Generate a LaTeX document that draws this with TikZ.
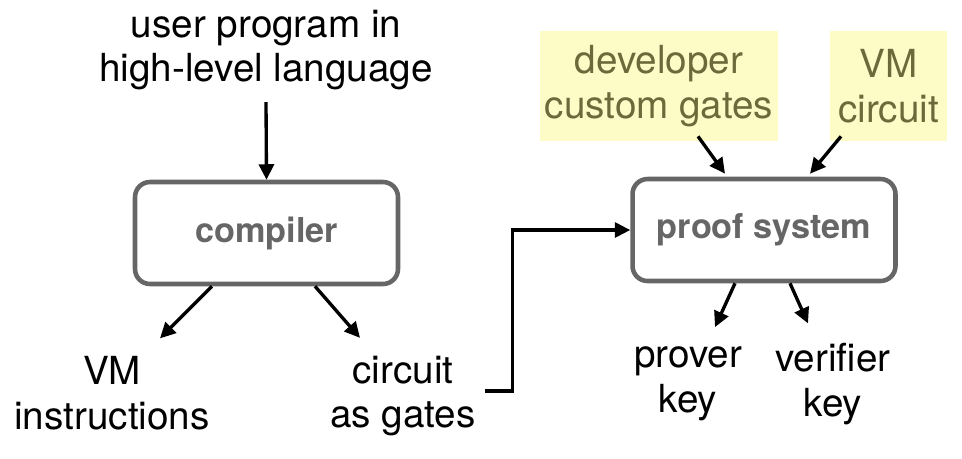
\documentclass[tikz,border=0pt]{standalone}
\usepackage{fontspec}
\setmainfont{TeX Gyre Heros}
\usepackage{tikz}
\usetikzlibrary{arrows.meta,calc}
\definecolor{boxgray}{HTML}{666666}
\definecolor{noteyellow}{HTML}{FDFBC6}
\definecolor{noteolive}{HTML}{6C6A3B}

\begin{document}
\begin{tikzpicture}[x=0.02cm,y=-0.02cm]
    % `stage' is used for the two rounded boxes.
    % `note' is used for the yellow inputs.
    % `txt' is used for the plain texts, `flow' for every arrow.
    \tikzstyle{stage} = [draw=boxgray,line width=2.6pt,rounded corners=3mm,minimum width=5.26cm,minimum height=2.04cm,text=boxgray,font=\fontsize{19.5}{23}\selectfont\bfseries]
    \tikzstyle{note} = [fill=noteyellow,text=noteolive,align=center,inner sep=0pt,minimum height=2.2cm,font=\fontsize{22}{25.5}\selectfont]
    \tikzstyle{txt} = [align=center,inner sep=2pt,font=\fontsize{22}{25.5}\selectfont]
    \tikzstyle{flow} = [line width=1.9pt,-{Triangle[length=0.31cm,width=0.3cm]}]
    %
    \useasboundingbox (0,0) rectangle (962,458);
    \node[txt] (user) at (266,50) {user program in\\high-level language};
    \node[stage] (compiler) at (266.5,233) {compiler};
    \node[stage] (proof) at (764,230) {proof system};
    \node[note,minimum width=4.76cm] (custom) at (659,86) {developer\\custom gates};
    \node[note,minimum width=2.34cm] (vmcirc) at (888.5,86) {VM\\circuit};
    \node[txt] (instr) at (112,393) {VM\\instructions};
    \node[txt] (gates) at (403,396) {circuit\\as gates};
    \node[txt] (pkey) at (688,384) {prover\\key};
    \node[txt] (vkey) at (833,384) {verifier\\key};
    %
    % Draw arrows.
    \draw[flow] ($(user.south)+(0,8)$) -- (compiler.north);
    \draw[flow] ($(compiler.south)+(-54.5,0)$) -- ($(instr.north)+(48,-14)$);
    \draw[flow] ($(compiler.south)+(48.5,0)$) -- ($(gates.north)+(-43,-14)$);
    \draw[flow] ($(gates.east)+(5,-5)$) -- ++(28,0) |- (proof.west);
    \draw[flow] ($(custom.south)+(39,-5)$) -- ($(proof.north)+(-39,-3)$);
    \draw[flow] ($(vmcirc.south)+(-47.5,-5)$) -- ($(proof.north)+(46,-3)$);
    \draw[flow] ($(proof.south)+(-29,0)$) -- ($(pkey.north)+(27,-16)$);
    \draw[flow] ($(proof.south)+(26,0)$) -- ($(vkey.north)+(-25,-16)$);
\end{tikzpicture}
\end{document}
